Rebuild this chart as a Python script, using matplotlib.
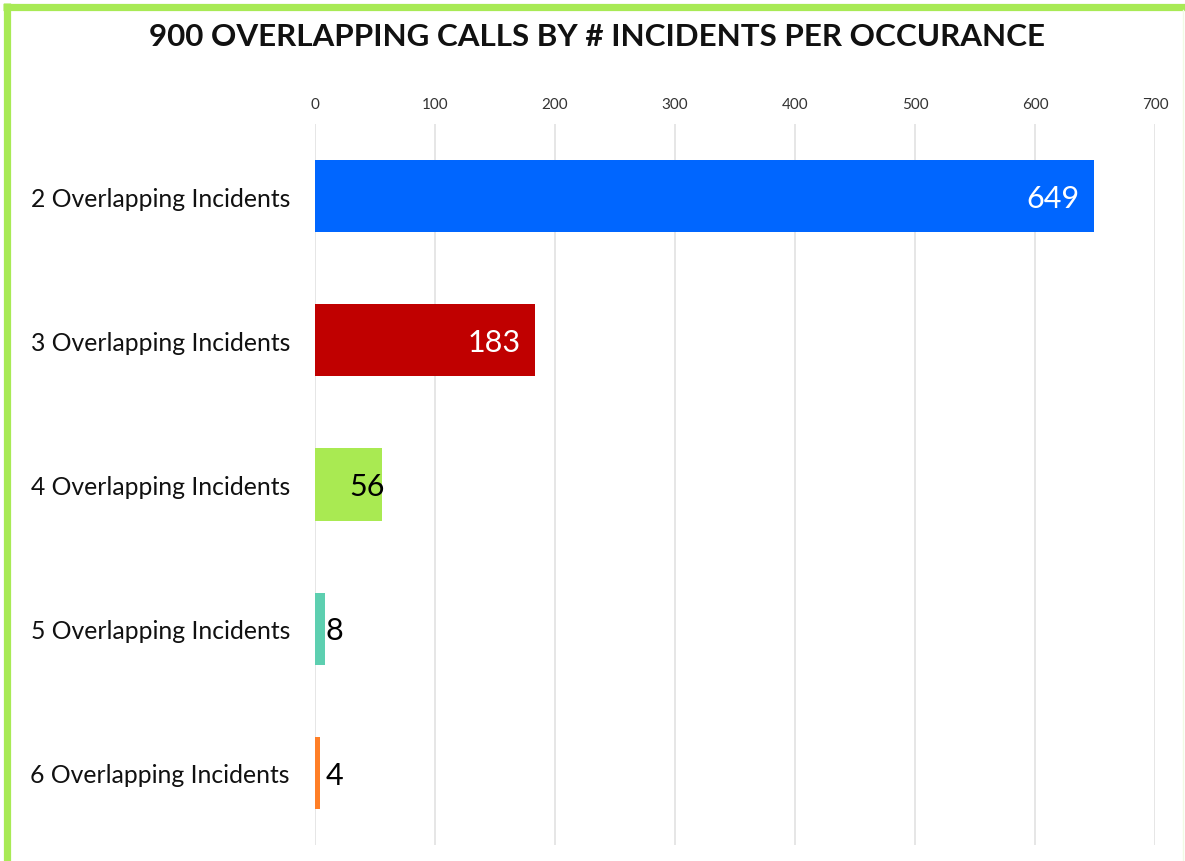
import matplotlib.pyplot as plt
from matplotlib.lines import Line2D

plt.rcParams['font.family'] = ['Lato', 'DejaVu Sans']

# data
categories = ['2 Overlapping Incidents', '3 Overlapping Incidents', '4 Overlapping Incidents',
              '5 Overlapping Incidents', '6 Overlapping Incidents']
counts = [649, 183, 56, 8, 4]
bar_colors = ['#0066FF', '#C00000', '#A9EA52', '#5DCFB0', '#FF7F27']
x_ticks = [0, 100, 200, 300, 400, 500, 600, 700]

W, H = 1185, 862
fig = plt.figure(figsize=(W / 100, H / 100), dpi=100)
ax = fig.add_axes([315 / W, 1 - 846 / H, 840 / W, (846 - 125) / H])

y = list(range(len(categories)))
ax.barh(y, counts, height=0.5, color=bar_colors, zorder=3)
ax.set_xlim(0, 700)
ax.set_ylim(len(categories) - 0.5, -0.5)

ax.set_xticks(x_ticks)
ax.xaxis.tick_top()
ax.tick_params(axis='x', length=0, pad=9.7, labelsize=11, labelcolor='#333333')
ax.set_yticks(y)
ax.set_yticklabels(categories)
ax.tick_params(axis='y', length=0, pad=18, labelsize=17.8, labelcolor='#111111')
ax.grid(axis='x', color='#E2E2E2', linewidth=1.2, zorder=0)
for s in ax.spines.values():
    s.set_visible(False)

# value labels
for i, v in enumerate(counts):
    if v > 100:
        ax.annotate(str(v), (v, i), xytext=(-10, -1.2), textcoords='offset points',
                    ha='right', va='center', color='white', fontsize=22, zorder=4)
    elif v > 20:
        ax.annotate(str(v), (v, i), xytext=(2, -1.2), textcoords='offset points',
                    ha='right', va='center', color='black', fontsize=22, zorder=4)
    else:
        ax.annotate(str(v), (max(v, 8), i), xytext=(1, -1.2), textcoords='offset points',
                    ha='left', va='center', color='black', fontsize=22, zorder=4)

fig.text(597 / W, 1 - 37 / H, '900 OVERLAPPING CALLS BY # INCIDENTS PER OCCURANCE',
         ha='center', va='center', fontsize=22.6, fontweight='bold', color='#111111')

# green frame (top and left)
green = '#A8EA55'
fig.add_artist(Line2D([6.5 / W, 6.5 / W], [0, 1 - 4 / H], transform=fig.transFigure,
                      color=green, linewidth=5.2, solid_capstyle='butt'))
fig.add_artist(Line2D([3 / W, 1], [1 - 7.5 / H, 1 - 7.5 / H], transform=fig.transFigure,
                      color=green, linewidth=5.2, solid_capstyle='butt'))
fig.add_artist(Line2D([1183 / W, 1183 / W], [0, 1 - 11 / H], transform=fig.transFigure,
                      color='#F0FAE4', linewidth=1))

fig.savefig('out.png', dpi=100)
